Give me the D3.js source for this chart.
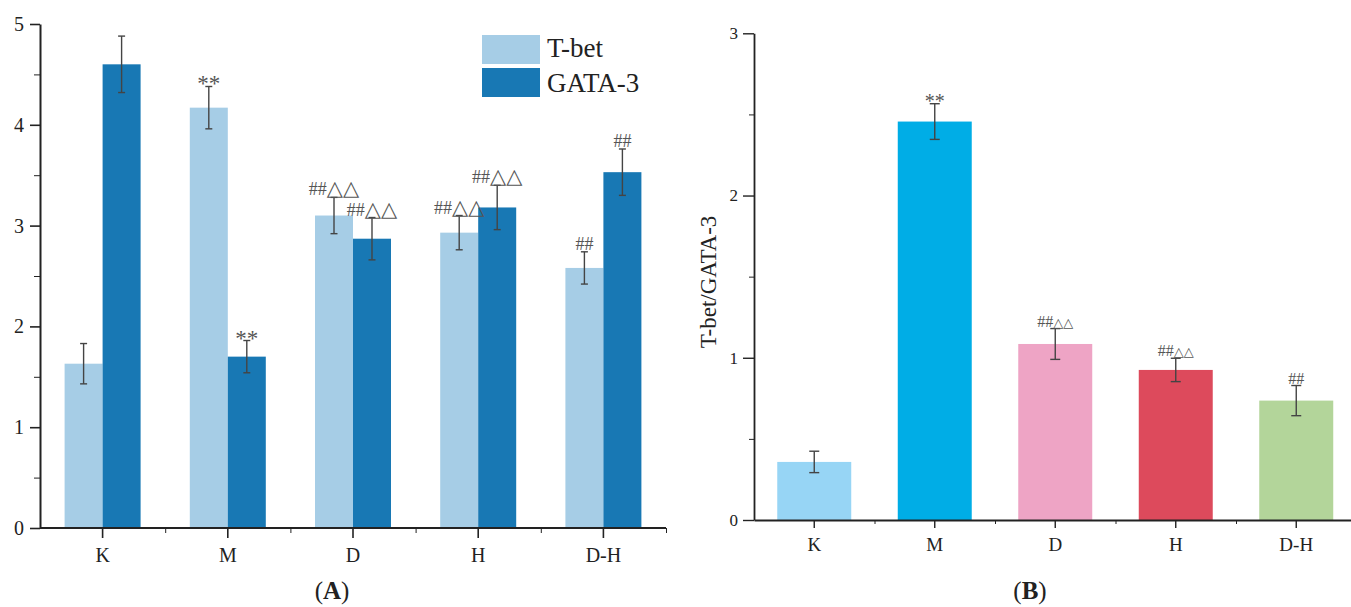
<!DOCTYPE html>
<html lang="en">
<head>
    <meta charset="UTF-8">
    <title>T-bet / GATA-3</title>
    <script src="https://d3js.org/d3.v7.min.js"></script>
    <style>
        body { margin: 0; background: #fff; }
        svg { display: block; }
        text { font-family: "Liberation Serif", "Times New Roman", serif; fill: #222; }
        .axis path, .axis line { stroke: #222; }
        .axis text { fill: #222; }
        .err { stroke: #444; stroke-width: 1.4; fill: none; }
        .mark { fill: #555; text-anchor: middle; }
        .tri { font-family: "DejaVu Sans", sans-serif; }
    </style>
</head>
<body>
<div id="chart"></div>
<script>
    const width = 1351;
    const height = 607;

    // data
    const groups = ["K", "M", "D", "H", "D-H"];
    const series = ["T-bet", "GATA-3"];
    const seriesColors = ["#a6cde6", "#1878b4"];

    const tbet = [1.63, 4.17, 3.10, 2.93, 2.58];
    const tbetErr = [0.20, 0.21, 0.18, 0.17, 0.16];
    const tbetMarks = ["", "**", "##△△", "##△△", "##"];

    const gata = [4.60, 1.70, 2.87, 3.18, 3.53];
    const gataErr = [0.28, 0.16, 0.21, 0.22, 0.23];
    const gataMarks = ["", "**", "##△△", "##△△", "##"];

    const ratio = [0.358, 2.456, 1.085, 0.925, 0.736];
    const ratioErr = [0.066, 0.11, 0.095, 0.072, 0.093];
    const ratioMarks = ["", "**", "##△△", "##△△", "##"];
    const ratioColors = ["#97d5f5", "#00ade6", "#eea4c5", "#dd4a5c", "#b3d59a"];

    const yTicksA = [0, 1, 2, 3, 4, 5];
    const yTicksB = [0, 1, 2, 3];

    const svg = d3.select("#chart").append("svg")
        .attr("width", width).attr("height", height);

    // draws "**" or "##△△" above an error bar
    function drawMark(g, x, top, label, big) {
        if (!label) return;
        if (label.startsWith("*")) {
            g.append("text").attr("class", "mark")
                .attr("x", x).attr("y", top + (big ? 5 : 4))
                .attr("font-size", big ? 23 : 20)
                .text(label);
            return;
        }
        const t = g.append("text").attr("class", "mark")
            .attr("x", x).attr("y", top - 2)
            .attr("font-size", big ? 18 : 16);
        t.append("tspan").text(label.replace(/△/g, ""));
        const tri = label.replace(/#/g, "");
        if (tri) {
            t.append("tspan").attr("class", "tri")
                .attr("font-size", big ? 21 : 13)
                .text(tri);
        }
    }

    function drawErr(g, x, yTop, yBot, half) {
        g.append("line").attr("class", "err").attr("x1", x).attr("x2", x).attr("y1", yTop).attr("y2", yBot);
        g.append("line").attr("class", "err").attr("x1", x - half).attr("x2", x + half).attr("y1", yTop).attr("y2", yTop);
        g.append("line").attr("class", "err").attr("x1", x - half).attr("x2", x + half).attr("y1", yBot).attr("y2", yBot);
    }

    // ---------- panel A ----------
    const gA = svg.append("g");
    const yA = d3.scaleLinear().domain([0, 5]).range([528, 24]);
    const xA = d3.scaleBand().domain(groups).range([40, 666])
        .paddingInner(0.393).paddingOuter(0.1965);
    const xA1 = d3.scaleBand().domain(series).range([0, xA.bandwidth()]);

    const valuesA = [tbet, gata];
    const errA = [tbetErr, gataErr];
    const marksA = [tbetMarks, gataMarks];

    series.forEach((s, si) => {
        gA.append("g").selectAll("rect")
            .data(groups)
            .join("rect")
            .attr("x", g => xA(g) + xA1(s))
            .attr("width", xA1.bandwidth())
            .attr("y", (g, i) => yA(valuesA[si][i]))
            .attr("height", (g, i) => yA(0) - yA(valuesA[si][i]))
            .attr("fill", seriesColors[si]);
    });

    series.forEach((s, si) => {
        groups.forEach((g, i) => {
            const cx = xA(g) + xA1(s) + xA1.bandwidth() / 2;
            const v = valuesA[si][i], e = errA[si][i];
            drawErr(gA, cx, yA(v + e), yA(v - e), 3.5);
            drawMark(gA, cx, yA(v + e), marksA[si][i], true);
        });
    });

    // y axis A
    const yAxisA = gA.append("g").attr("class", "axis").attr("transform", "translate(40,0)")
        .call(d3.axisLeft(yA).tickValues(yTicksA).tickFormat(d3.format("d")).tickSize(10).tickSizeOuter(0).tickPadding(6));
    gA.append("g").attr("class", "axis").attr("transform", "translate(40,0)")
        .call(d3.axisLeft(yA).tickValues(d3.range(0.5, 5, 1)).tickFormat("").tickSize(6).tickSizeOuter(0))
        .select(".domain").remove();

    // x axis A
    const xAxisA = gA.append("g").attr("class", "axis").attr("transform", "translate(0,528)")
        .call(d3.axisBottom(xA).tickSize(10).tickSizeOuter(0).tickPadding(10));
    const boundsA = groups.map(g => xA(g) + xA.bandwidth() / 2 + xA.step() / 2);
    gA.append("g").attr("class", "axis").attr("transform", "translate(0,528)")
        .call(d3.axisBottom(d3.scaleIdentity()).tickValues(boundsA).tickFormat("").tickSize(5).tickSizeOuter(0))
        .select(".domain").remove();

    [yAxisA, xAxisA].forEach(a => {
        a.selectAll("text").attr("font-size", 20).attr("font-family", "Liberation Serif");
        a.select(".domain").attr("stroke-width", 2);
        a.selectAll(".tick line").attr("stroke-width", 1.6);
    });
    xAxisA.select(".domain").attr("d", "M40,0H666");

    // legend A
    const legA = gA.append("g");
    series.forEach((s, si) => {
        legA.append("rect").attr("x", 482).attr("y", 35 + si * 33)
            .attr("width", 58).attr("height", 29).attr("fill", seriesColors[si]);
        legA.append("text").attr("x", 547).attr("y", 57 + si * 35)
            .attr("font-size", 27).text(s);
    });

    gA.append("text").attr("x", 332).attr("y", 599).attr("text-anchor", "middle")
        .attr("font-size", 25)
        .html('(<tspan font-weight="bold">A</tspan>)');

    // ---------- panel B ----------
    const gB = svg.append("g");
    const yB = d3.scaleLinear().domain([0, 3]).range([520, 33.3]);
    const xB = d3.scaleBand().domain(groups).range([754, 1356.5])
        .paddingInner(0.386).paddingOuter(0.193);

    gB.append("g").selectAll("rect")
        .data(groups)
        .join("rect")
        .attr("x", g => xB(g))
        .attr("width", xB.bandwidth())
        .attr("y", (g, i) => yB(ratio[i]))
        .attr("height", (g, i) => yB(0) - yB(ratio[i]))
        .attr("fill", (g, i) => ratioColors[i]);

    groups.forEach((g, i) => {
        const cx = xB(g) + xB.bandwidth() / 2;
        drawErr(gB, cx, yB(ratio[i] + ratioErr[i]), yB(ratio[i] - ratioErr[i]), 5);
        drawMark(gB, cx, yB(ratio[i] + ratioErr[i]), ratioMarks[i], false);
    });

    const yAxisB = gB.append("g").attr("class", "axis").attr("transform", "translate(754,0)")
        .call(d3.axisLeft(yB).tickValues(yTicksB).tickFormat(d3.format("d")).tickSize(11).tickSizeOuter(0).tickPadding(5));
    gB.append("g").attr("class", "axis").attr("transform", "translate(754,0)")
        .call(d3.axisLeft(yB).tickValues([0.5, 1.5, 2.5]).tickFormat("").tickSize(5).tickSizeOuter(0))
        .select(".domain").remove();

    const xAxisB = gB.append("g").attr("class", "axis").attr("transform", "translate(0,520)")
        .call(d3.axisBottom(xB).tickSize(8).tickSizeOuter(0).tickPadding(10));
    const boundsB = groups.map(g => xB(g) + xB.bandwidth() / 2 + xB.step() / 2);
    gB.append("g").attr("class", "axis").attr("transform", "translate(0,520)")
        .call(d3.axisBottom(d3.scaleIdentity()).tickValues(boundsB).tickFormat("").tickSize(4).tickSizeOuter(0))
        .select(".domain").remove();

    yAxisB.selectAll("text").attr("font-size", 17).attr("font-family", "Liberation Serif");
    xAxisB.selectAll("text").attr("font-size", 19).attr("font-family", "Liberation Serif");
    [yAxisB, xAxisB].forEach(a => {
        a.select(".domain").attr("stroke-width", 1.8);
        a.selectAll(".tick line").attr("stroke-width", 1.4);
    });

    gB.append("text")
        .attr("transform", "translate(716,282) rotate(-90)")
        .attr("text-anchor", "middle")
        .attr("font-size", 23)
        .text("T-bet/GATA-3");

    gB.append("text").attr("x", 1030).attr("y", 599).attr("text-anchor", "middle")
        .attr("font-size", 25)
        .html('(<tspan font-weight="bold">B</tspan>)');
</script>
</body>
</html>
